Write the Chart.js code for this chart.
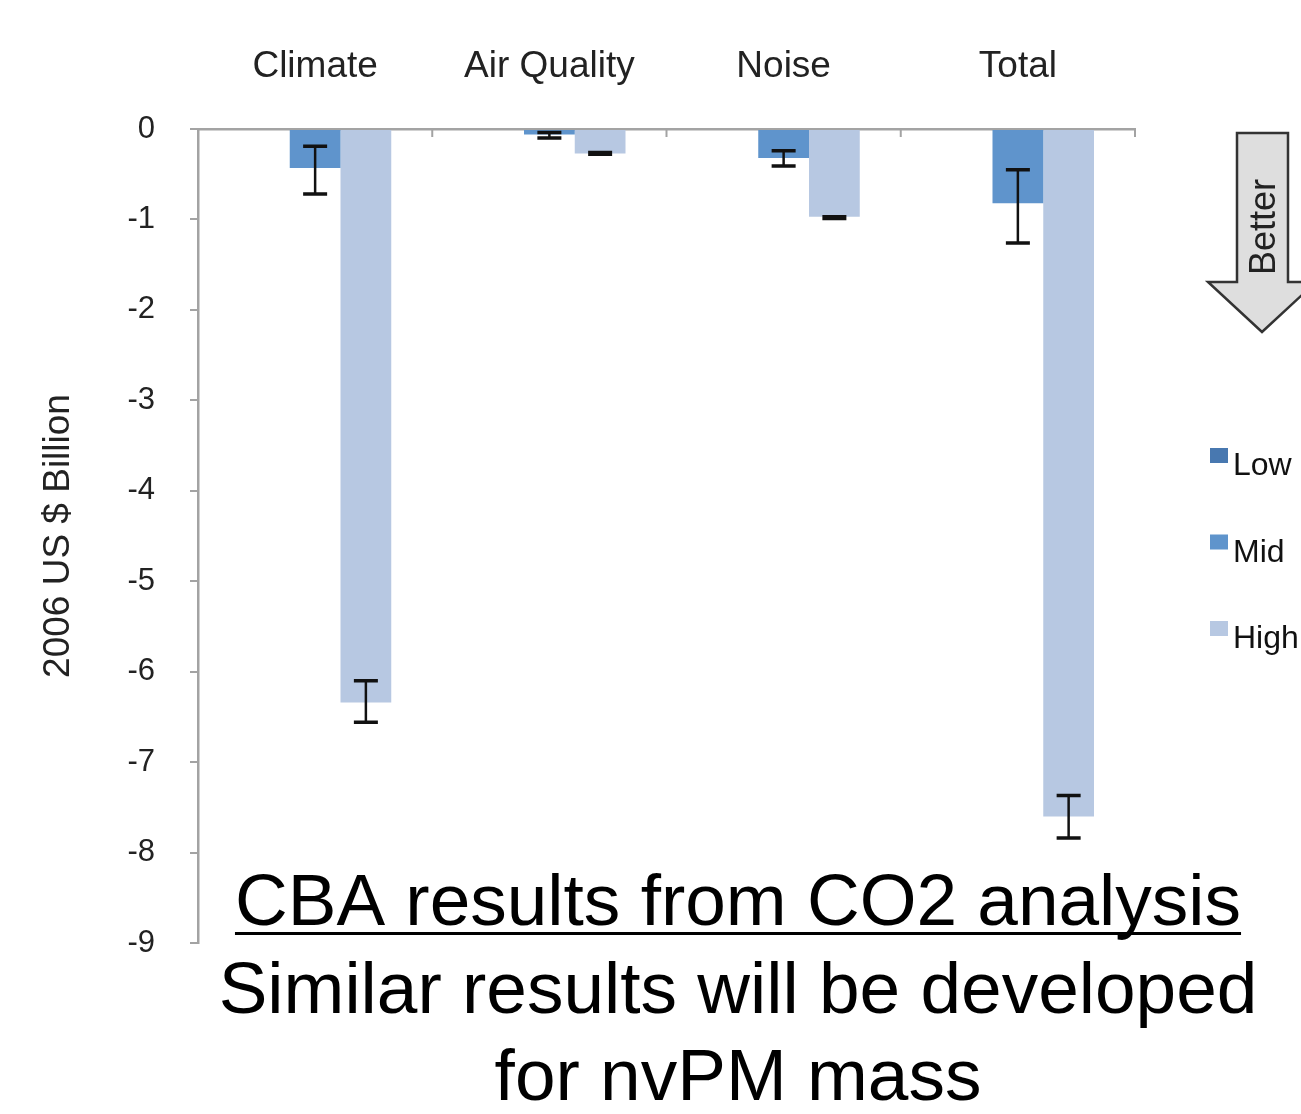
<!DOCTYPE html>
<html>
<head>
<meta charset="utf-8">
<script src="https://cdn.jsdelivr.net/npm/chart.js@4"></script>
<style>
  body { margin: 0; background: #fff; }
  #wrap { position: relative; width: 1301px; height: 1114px; }
</style>
</head>
<body>
<div id="wrap"><canvas id="myChart" width="1301" height="1114"></canvas></div>
<script>
const categories = ["Climate", "Air Quality", "Noise", "Total"];
const seriesNames = ["Low", "Mid", "High"];

const lowValues = [0, 0, 0, 0];
const midValues = [-0.43, -0.06, -0.32, -0.82];
const highValues = [-6.34, -0.27, -0.97, -7.60];

// error bar ends (upper / lower)
const midErrUpper = [-0.19, -0.04, -0.24, -0.45];
const midErrLower = [-0.72, -0.10, -0.41, -1.26];
const highErrUpper = [-6.10, -0.26, -0.97, -7.37];
const highErrLower = [-6.56, -0.28, -0.99, -7.84];

const yMin = -9, yMax = 0, yStep = 1;

const captionLines = ["CBA results from CO2 analysis", "Similar results will be developed", "for nvPM mass"];

const colors = ["#4878b0", "#5f94cc", "#b7c8e2"];
const axisGray = "#a3a3a3";
const font = "'Liberation Sans', Arial, sans-serif";

const errorBars = {
  id: "errorBars",
  afterDatasetsDraw(chart) {
    const { ctx } = chart;
    const y = chart.scales.y;
    chart.data.datasets.forEach((ds, i) => {
      if (!ds.errUpper) return;
      const meta = chart.getDatasetMeta(i);
      meta.data.forEach((bar, j) => {
        const y1 = y.getPixelForValue(ds.errUpper[j]);
        const y2 = y.getPixelForValue(ds.errLower[j]);
        const cap = 12;
        ctx.save();
        ctx.strokeStyle = "#111";
        ctx.lineWidth = 2.5;
        ctx.beginPath();
        ctx.moveTo(bar.x, y1);
        ctx.lineTo(bar.x, y2);
        ctx.stroke();
        ctx.lineWidth = 3.5;
        ctx.beginPath();
        ctx.moveTo(bar.x - cap, y1);
        ctx.lineTo(bar.x + cap, y1);
        ctx.moveTo(bar.x - cap, y2);
        ctx.lineTo(bar.x + cap, y2);
        ctx.stroke();
        ctx.restore();
      });
    });
  }
};

const extras = {
  id: "extras",
  afterDraw(chart) {
    const { ctx, chartArea } = chart;
    const x = chart.scales.x;

    // small tick marks hanging from the top axis between categories
    ctx.save();
    ctx.strokeStyle = axisGray;
    ctx.lineWidth = 2;
    for (let i = 0; i < categories.length; i++) {
      const half = (x.getPixelForValue(1) - x.getPixelForValue(0)) / 2;
      const bx = x.getPixelForValue(i) + half;
      ctx.beginPath();
      ctx.moveTo(bx, chartArea.top);
      ctx.lineTo(bx, chartArea.top + 8);
      ctx.stroke();
    }
    ctx.restore();

    // "Better" arrow
    const ax = 1262, top = 133, base = 282, tip = 332;
    ctx.save();
    ctx.beginPath();
    ctx.moveTo(ax - 25, top);
    ctx.lineTo(ax + 26, top);
    ctx.lineTo(ax + 26, base);
    ctx.lineTo(ax + 54, base);
    ctx.lineTo(ax, tip);
    ctx.lineTo(ax - 54, base);
    ctx.lineTo(ax - 25, base);
    ctx.closePath();
    ctx.fillStyle = "#dedede";
    ctx.fill();
    ctx.strokeStyle = "#333";
    ctx.lineWidth = 2.5;
    ctx.stroke();
    ctx.translate(ax + 3, 227);
    ctx.rotate(-Math.PI / 2);
    ctx.fillStyle = "#222";
    ctx.font = "36px " + font;
    ctx.textAlign = "center";
    ctx.textBaseline = "middle";
    ctx.fillText("Better", 0, 0);
    ctx.restore();

    // legend
    ctx.save();
    ctx.font = "32px " + font;
    ctx.textBaseline = "alphabetic";
    chart.data.datasets.forEach((ds, i) => {
      const by = 475 + i * 86.5;
      ctx.fillStyle = ds.backgroundColor;
      ctx.fillRect(1210, by - 27, 18, 15);
      ctx.fillStyle = "#111";
      ctx.fillText(ds.label, 1233, by);
    });
    ctx.restore();

    // caption
    ctx.save();
    ctx.fillStyle = "#000";
    ctx.font = "73px " + font;
    ctx.textAlign = "center";
    ctx.textBaseline = "alphabetic";
    const cx = 738;
    const baselines = [925, 1013, 1100];
    captionLines.forEach((t, i) => ctx.fillText(t, cx, baselines[i]));
    const w = ctx.measureText(captionLines[0]).width;
    ctx.fillRect(cx - w / 2, 932, w, 3);
    ctx.restore();
  }
};

const ctx = document.getElementById("myChart");

new Chart(ctx, {
  type: "bar",
  data: {
    labels: categories,
    datasets: [
      { label: seriesNames[0], data: lowValues, backgroundColor: colors[0] },
      { label: seriesNames[1], data: midValues, backgroundColor: colors[1], errUpper: midErrUpper, errLower: midErrLower },
      { label: seriesNames[2], data: highValues, backgroundColor: colors[2], errUpper: highErrUpper, errLower: highErrLower }
    ]
  },
  options: {
    responsive: false,
    animation: false,
    layout: { padding: { left: 0, top: 0, right: 166, bottom: 171 } },
    datasets: { bar: { barPercentage: 1, categoryPercentage: 0.65 } },
    plugins: { legend: { display: false }, tooltip: { enabled: false } },
    scales: {
      x: {
        position: "top",
        afterFit(scale) { scale.height = 129; },
        grid: { display: false },
        border: { display: true, color: axisGray, width: 2.5 },
        ticks: { font: { family: font, size: 37 }, color: "#222", padding: 32, maxRotation: 0 }
      },
      y: {
        min: yMin,
        max: yMax,
        afterFit(scale) { scale.width = 198; },
        grid: { drawOnChartArea: false, drawTicks: true, tickLength: 8, color: axisGray, lineWidth: 2 },
        border: { display: true, color: axisGray, width: 2.5 },
        ticks: { stepSize: yStep, font: { family: font, size: 31 }, color: "#222", padding: 35 },
        title: { display: true, text: "2006 US $ Billion", font: { family: font, size: 37 }, color: "#222", padding: { top: 37, bottom: 0 } }
      }
    }
  },
  plugins: [errorBars, extras]
});
</script>
</body>
</html>
